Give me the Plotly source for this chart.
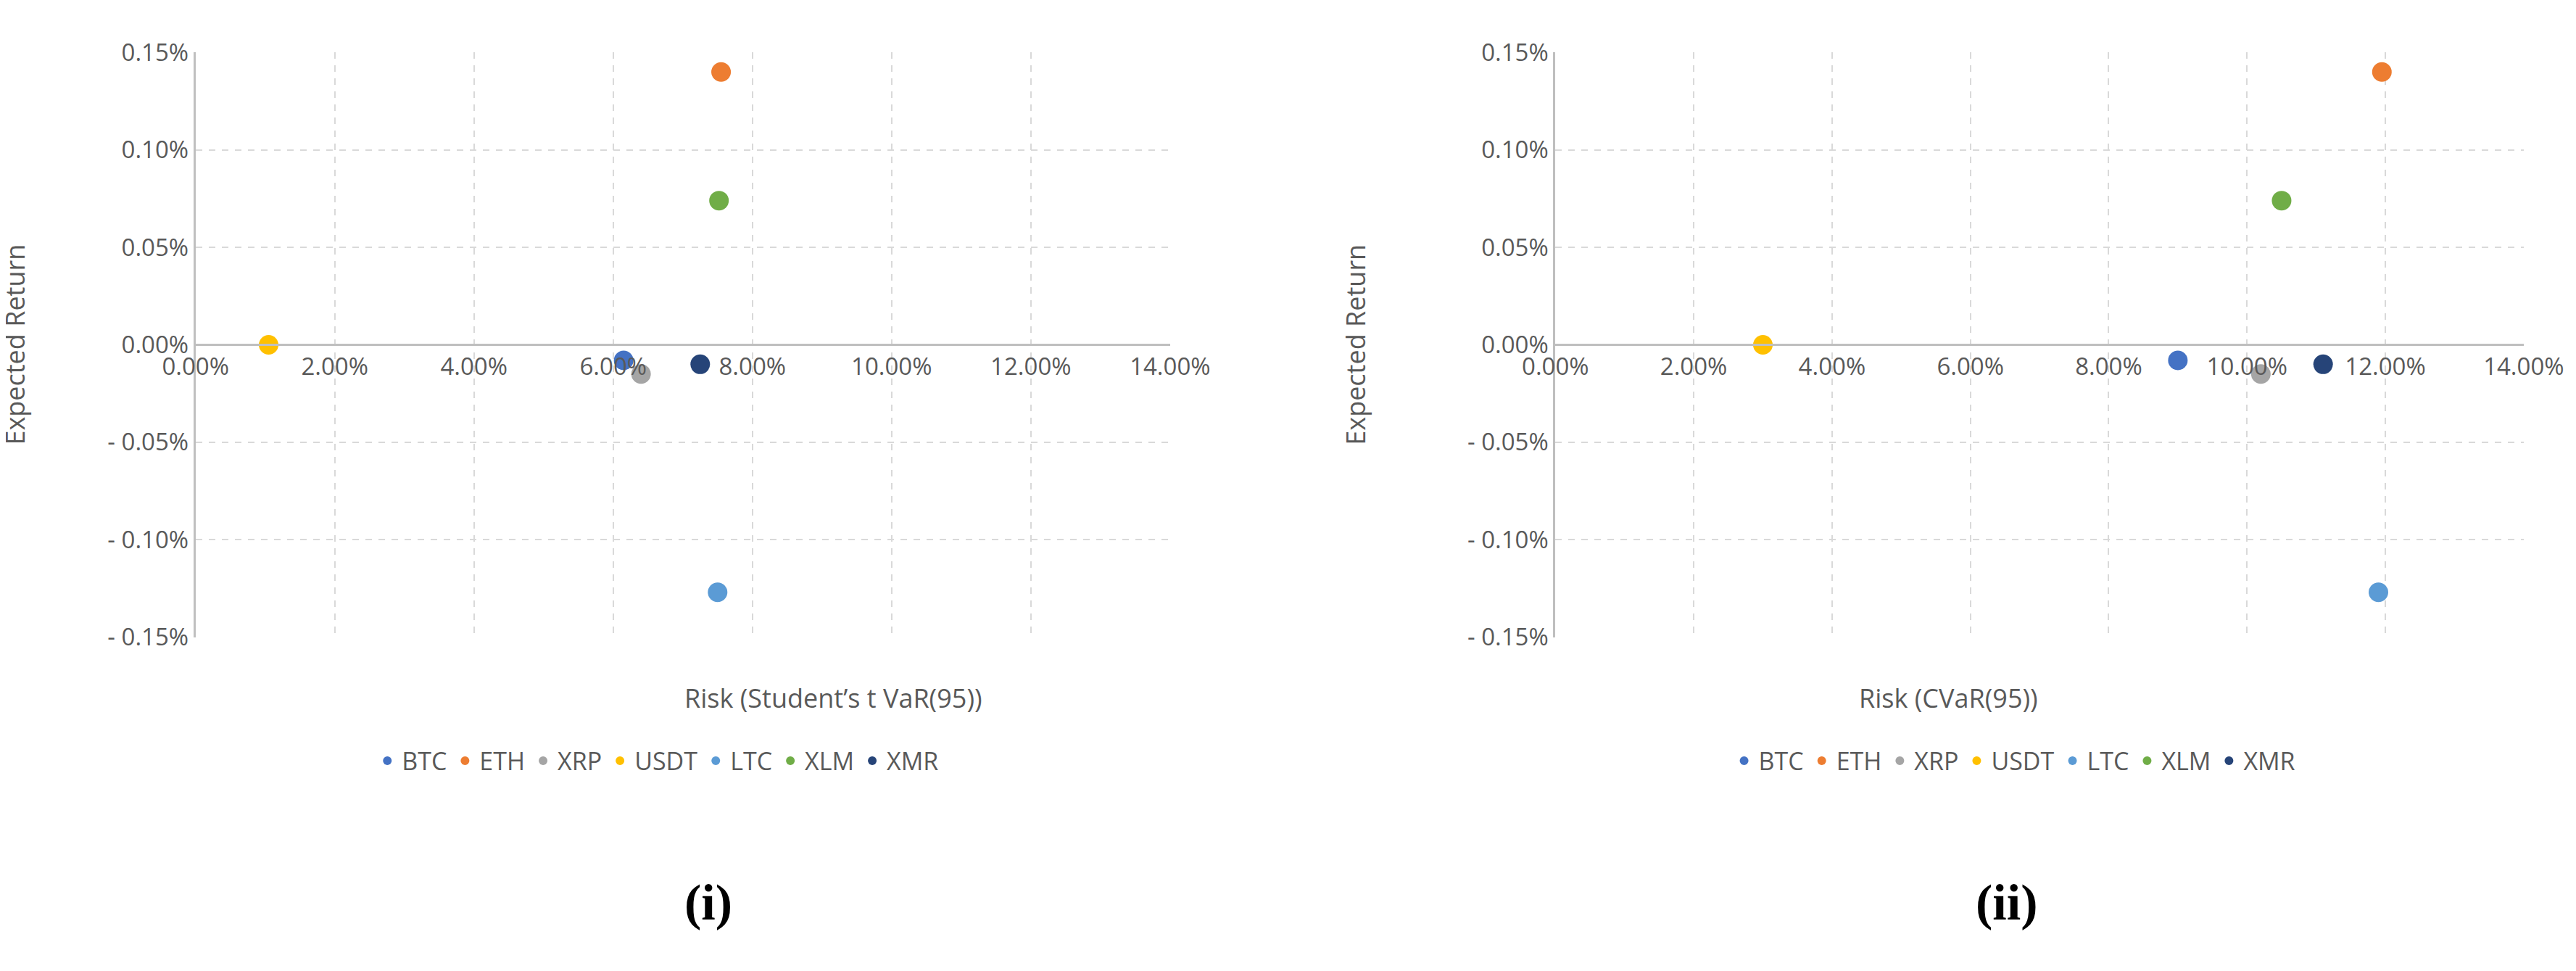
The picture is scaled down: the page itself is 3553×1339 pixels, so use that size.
import plotly.graph_objects as go

# -----------------------------
# Data
# -----------------------------
coins = ["BTC", "ETH", "XRP", "USDT", "LTC", "XLM", "XMR"]
colors = ["#4472C4", "#ED7D31", "#A5A5A5", "#FFC000", "#5B9BD5", "#70AD47", "#264478"]
exp_return = [-0.008, 0.140, -0.015, 0.0, -0.127, 0.074, -0.010]
risk_tvar = [6.15, 7.55, 6.40, 1.05, 7.50, 7.52, 7.25]
risk_cvar = [9.00, 11.95, 10.20, 3.00, 11.90, 10.50, 11.10]

x_ticks = [0, 2, 4, 6, 8, 10, 12, 14]
x_labels = ["0.00%", "2.00%", "4.00%", "6.00%", "8.00%", "10.00%", "12.00%", "14.00%"]
y_ticks = [-0.15, -0.10, -0.05, 0.0, 0.05, 0.10, 0.15]
y_labels = ["- 0.15%", "- 0.10%", "- 0.05%", "0.00%", "0.05%", "0.10%", "0.15%"]

FONT = "Open Sans"
GRAY = "#595959"
GRID = "#D9D9D9"
ydom = [0.345, 0.968]
zero_pos = ydom[0] + 0.5 * (ydom[1] - ydom[0])

fig = go.Figure()

panels = [
    ("x", "y", "legend", risk_tvar, [0.0625, 0.452], "Risk (Student\u2019s t VaR(95))", "(i)"),
    ("x2", "y2", "legend2", risk_cvar, [0.606, 0.993], "Risk (CVaR(95))", "(ii)"),
]

for xa, ya, lg, xs, xdom, xtitle, tag in panels:
    for c, col, xv, yv in zip(coins, colors, xs, exp_return):
        fig.add_trace(go.Scatter(
            x=[xv], y=[yv], mode="markers", name=c, xaxis=xa, yaxis=ya, legend=lg,
            marker=dict(size=27, color=col),
        ))
    mid = (xdom[0] + xdom[1]) / 2
    fig.add_annotation(text=xtitle, x=mid, y=0.26, xref="paper", yref="paper",
                       showarrow=False, font=dict(family=FONT, size=36, color=GRAY))
    fig.add_annotation(text="Expected Return", x=xdom[0] - 0.08, y=(ydom[0] + ydom[1]) / 2,
                       xref="paper", yref="paper", textangle=-90, showarrow=False,
                       font=dict(family=FONT, size=36, color=GRAY))
    fig.add_annotation(text="<b>" + tag + "</b>", x=mid, y=0.031, xref="paper", yref="paper",
                       showarrow=False, font=dict(family="Liberation Serif", size=70, color="black"))

axis_common = dict(showgrid=True, gridcolor=GRID, griddash="dash", gridwidth=2,
                   zeroline=False, tickfont=dict(family=FONT, size=33, color=GRAY))

for i, (xa, ya, lg, xs, xdom, xtitle, tag) in enumerate(panels):
    sfx = "" if i == 0 else "2"
    fig.update_layout(**{
        "xaxis" + sfx: dict(axis_common, domain=xdom, range=[0, 14], tickvals=x_ticks,
                            ticktext=x_labels, anchor="free", position=zero_pos,
                            showline=True, linecolor="#BFBFBF", linewidth=3, ticks=""),
        "yaxis" + sfx: dict(axis_common, domain=ydom, range=[-0.15, 0.15], tickvals=y_ticks,
                            ticktext=y_labels, anchor="x" + sfx, showline=True,
                            linecolor="#BFBFBF", linewidth=3, ticks=""),
        lg: dict(orientation="h", x=(xdom[0] + xdom[1]) / 2 - 0.01, xanchor="center", y=0.213,
                 yanchor="middle", font=dict(family=FONT, size=34, color=GRAY),
                 itemsizing="constant", bgcolor="rgba(0,0,0,0)"),
    })

fig.update_layout(
    width=3553, height=1339, paper_bgcolor="white", plot_bgcolor="white",
    margin=dict(l=0, r=0, t=0, b=0),
)

fig.write_html("out.html")
